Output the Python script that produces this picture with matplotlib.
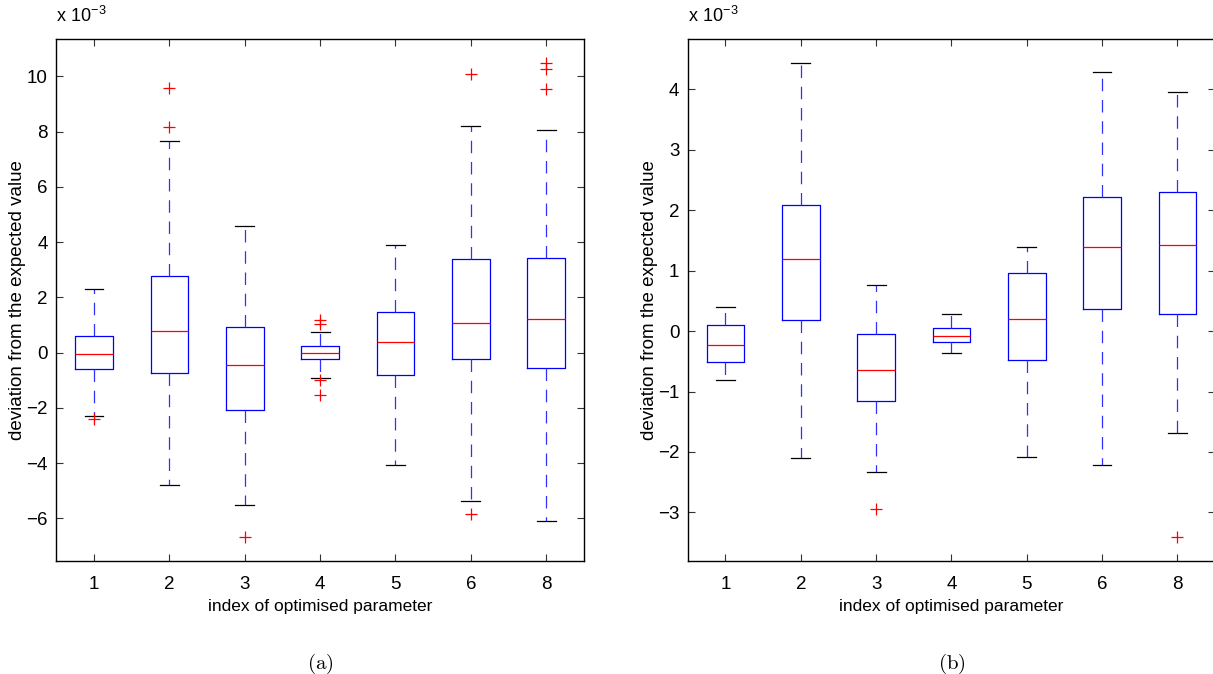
import numpy as np
import matplotlib
matplotlib.use("Agg")
import matplotlib.pyplot as plt

plt.rcParams['font.family'] = ['Liberation Sans', 'DejaVu Sans']
plt.rcParams['mathtext.fontset'] = 'cm'

labels = ['1', '2', '3', '4', '5', '6', '8']

# panel (a), values in units of 1e-3
a_whislo = [-2.29, -4.78, -5.52, -0.90, -4.07, -5.37, -6.08]
a_q1 = [-0.58, -0.72, -2.06, -0.22, -0.80, -0.22, -0.54]
a_med = [-0.04, 0.80, -0.43, 0.00, 0.40, 1.08, 1.23]
a_q3 = [0.61, 2.78, 0.94, 0.25, 1.48, 3.40, 3.43]
a_whishi = [2.31, 7.66, 4.59, 0.76, 3.90, 8.20, 8.06]
a_fliers = [[-2.40], [8.17, 9.58], [-6.66], [1.19, 1.05, -0.98, -1.52], [],
            [10.10, -5.84], [10.47, 10.26, 9.54]]

# panel (b), values in units of 1e-3
b_whislo = [-0.81, -2.10, -2.33, -0.36, -2.08, -2.22, -1.68]
b_q1 = [-0.51, 0.18, -1.16, -0.18, -0.48, 0.37, 0.28]
b_med = [-0.23, 1.19, -0.64, -0.08, 0.20, 1.39, 1.43]
b_q3 = [0.10, 2.08, -0.05, 0.05, 0.96, 2.22, 2.30]
b_whishi = [0.40, 4.43, 0.76, 0.28, 1.39, 4.28, 3.96]
b_fliers = [[], [], [-2.95], [], [], [], [-3.41]]


def make_stats(lo, q1, med, q3, hi, fl):
    stats = []
    for i in range(len(labels)):
        stats.append(dict(whislo=lo[i], q1=q1[i], med=med[i], q3=q3[i],
                          whishi=hi[i], fliers=fl[i], label=labels[i]))
    return stats


def draw_panel(ax, stats, ylim, yticks, tag):
    ax.bxp(stats, widths=0.5, capwidths=0.25, showfliers=True,
           boxprops=dict(color='#0000ff', linewidth=0.9),
           whiskerprops=dict(color='#3030ff', linewidth=0.9,
                             linestyle=(0, (10, 7))),
           capprops=dict(color='black', linewidth=0.9),
           medianprops=dict(color='#ff0000', linewidth=0.9),
           flierprops=dict(marker='+', markeredgecolor='#ff0000',
                           markersize=9, markeredgewidth=0.9))
    ax.set_xlim(0.5, 7.5)
    ax.set_ylim(*ylim)
    ax.set_yticks(yticks)
    ax.set_yticklabels([str(t).replace('-', '\u2212') for t in yticks])
    ax.tick_params(direction='in', top=True, right=True, length=5,
                   labelsize=13.5, width=0.8, color='#333333')
    ax.tick_params(axis='x', pad=11)
    ax.tick_params(axis='y', pad=6)
    ax.set_xlabel('index of optimised parameter', fontsize=12.5, labelpad=4)
    ax.set_ylabel('deviation from the expected value', fontsize=13.5,
                  labelpad=0)
    for s in ax.spines.values():
        s.set_linewidth(1.0)
    ax.text(0.0, 1.025, r'x 10$^{\mathregular{-3}}$',
            transform=ax.transAxes, fontsize=13, ha='left', va='bottom')
    ax.text(0.5, -0.175, r'$\mathrm{(' + tag + ')}$', transform=ax.transAxes,
            fontsize=15, ha='center', va='top')


fig = plt.figure(figsize=(12.13, 6.74), dpi=100)
ax1 = fig.add_axes([0.0464, 0.168, 0.435, 0.774])
ax2 = fig.add_axes([0.567, 0.168, 0.4347, 0.774])

draw_panel(ax1, make_stats(a_whislo, a_q1, a_med, a_q3, a_whishi, a_fliers),
           (-7.53, 11.35), [-6, -4, -2, 0, 2, 4, 6, 8, 10], 'a')
draw_panel(ax2, make_stats(b_whislo, b_q1, b_med, b_q3, b_whishi, b_fliers),
           (-3.8, 4.83), [-3, -2, -1, 0, 1, 2, 3, 4], 'b')

fig.savefig('out.png', dpi=100)
